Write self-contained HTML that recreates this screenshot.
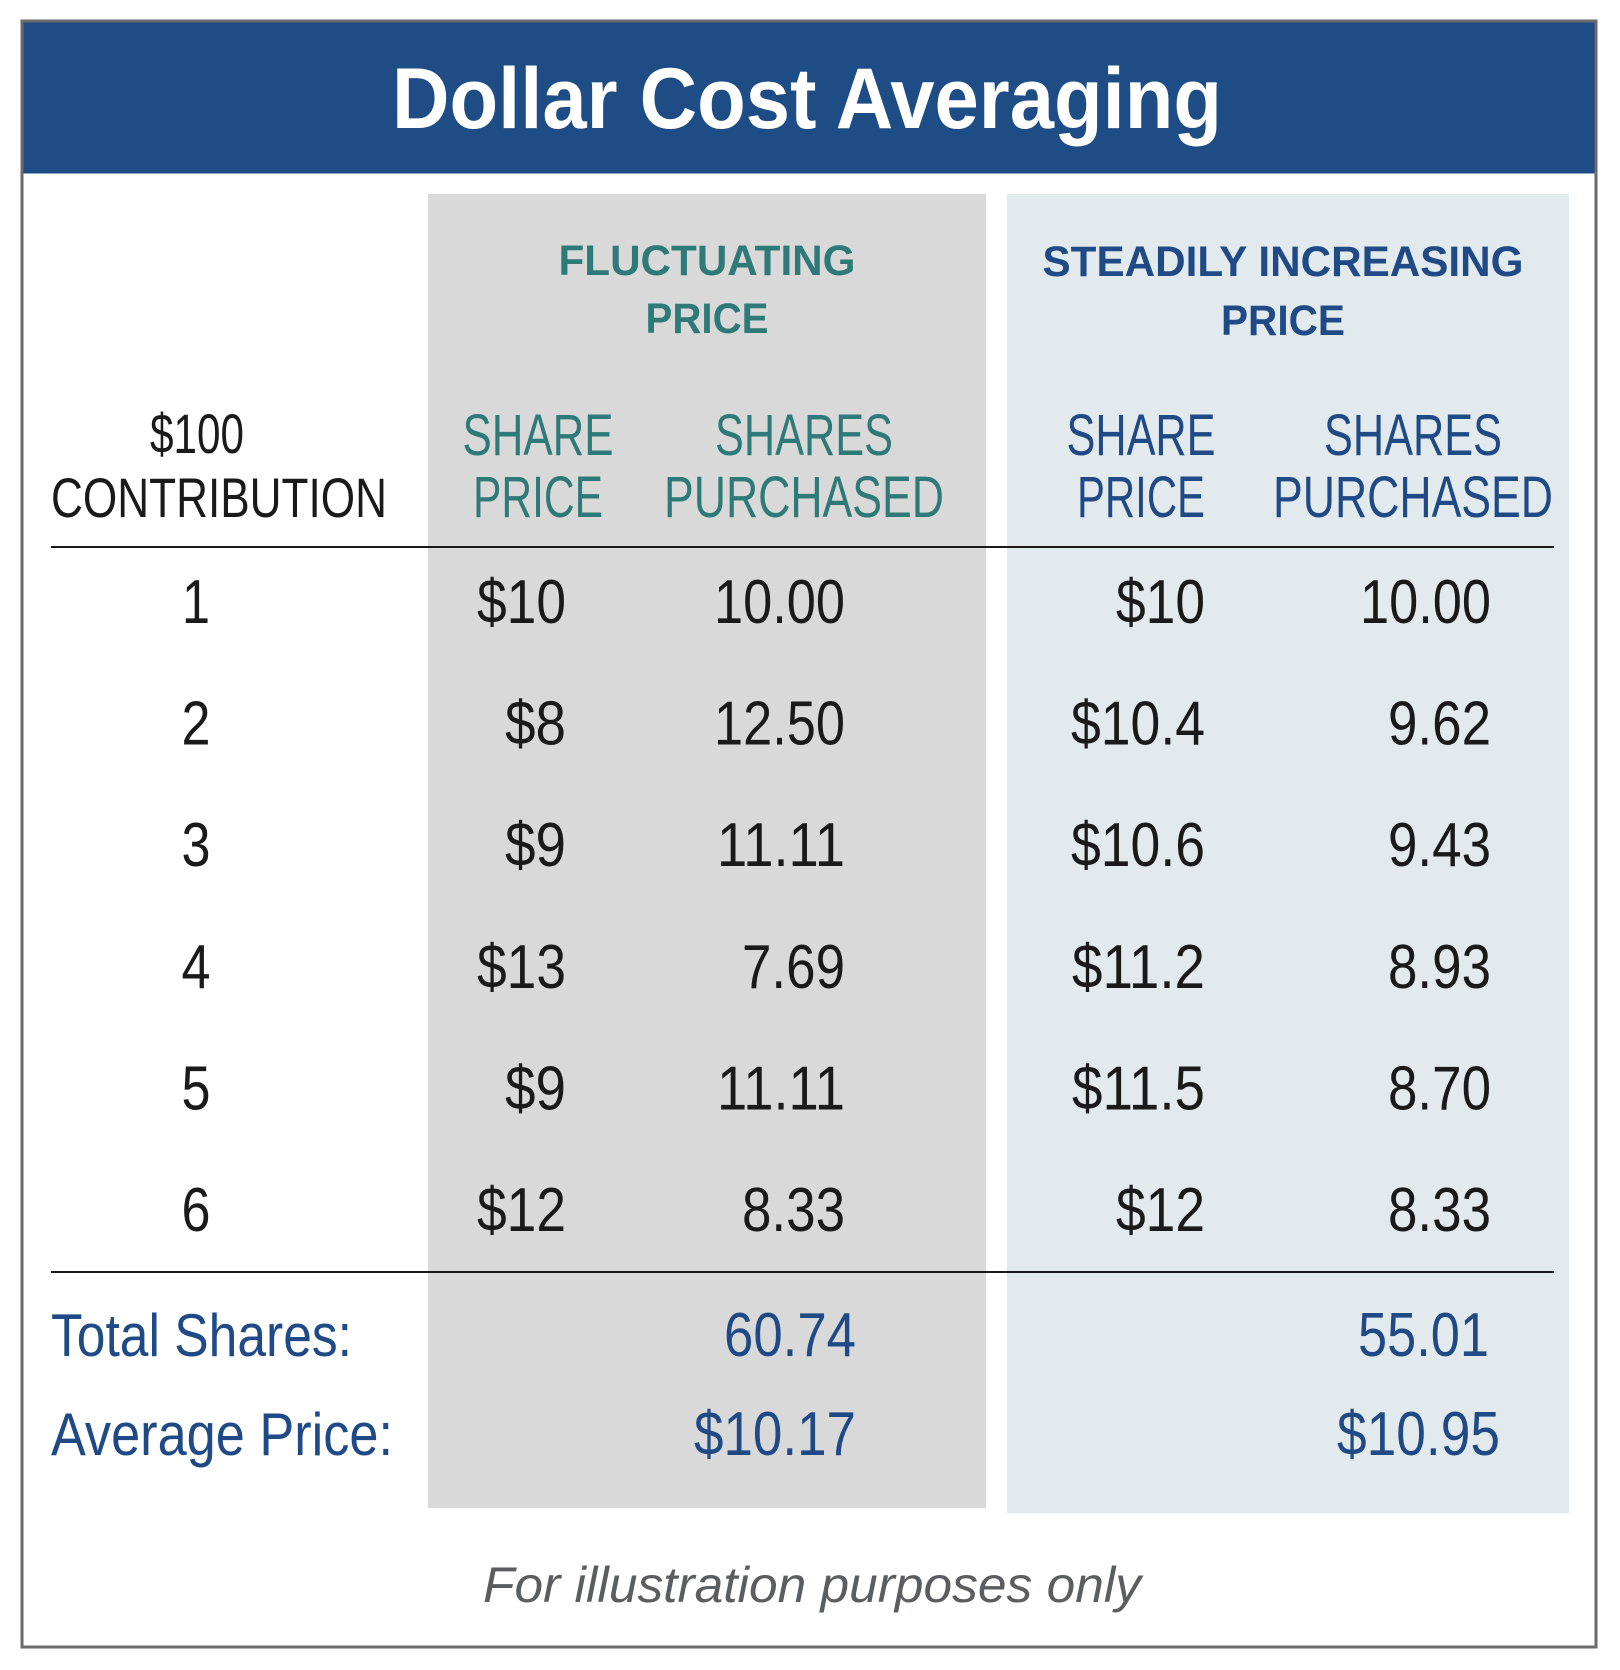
<!DOCTYPE html>
<html><head><meta charset="utf-8"><style>
html,body{margin:0;padding:0;background:#fff;}
svg{display:block;}
text{font-family:"Liberation Sans",sans-serif;}
</style></head><body>
<svg id="chart" width="1620" height="1670" viewBox="0 0 1620 1670" xmlns="http://www.w3.org/2000/svg">
<rect x="22" y="21" width="1574" height="1626" fill="#fff" stroke="#6b6b6b" stroke-width="3"/>
<rect x="23.5" y="22.5" width="1571" height="151" fill="#1e4c85"/>
<text x="807" y="128" text-anchor="middle" font-size="86" font-weight="bold" fill="#fff" textLength="830" lengthAdjust="spacingAndGlyphs">Dollar Cost Averaging</text>
<rect x="428" y="194" width="558" height="1314" fill="#d9d9d9"/>
<rect x="1007" y="194" width="562" height="1319" fill="#e2eaed"/>
<text text-anchor="middle" font-size="43" font-weight="bold" fill="#2e7a78"><tspan x="707" y="275" textLength="297" lengthAdjust="spacingAndGlyphs">FLUCTUATING</tspan><tspan x="707" y="333" textLength="123" lengthAdjust="spacingAndGlyphs">PRICE</tspan></text>
<text text-anchor="middle" font-size="43" font-weight="bold" fill="#1f4a86"><tspan x="1283" y="276" textLength="481" lengthAdjust="spacingAndGlyphs">STEADILY INCREASING</tspan><tspan x="1283" y="335" textLength="124" lengthAdjust="spacingAndGlyphs">PRICE</tspan></text>
<text font-size="56" fill="#1a1a1a"><tspan x="150" y="453" textLength="94" lengthAdjust="spacingAndGlyphs">$100</tspan><tspan x="51" y="517" textLength="336" lengthAdjust="spacingAndGlyphs">CONTRIBUTION</tspan></text>
<text text-anchor="middle" font-size="58" fill="#2e7a78"><tspan x="538" y="455" textLength="151" lengthAdjust="spacingAndGlyphs">SHARE</tspan><tspan x="538" y="517" textLength="130" lengthAdjust="spacingAndGlyphs">PRICE</tspan></text>
<text text-anchor="middle" font-size="58" fill="#2e7a78"><tspan x="804" y="455" textLength="178" lengthAdjust="spacingAndGlyphs">SHARES</tspan><tspan x="804" y="517" textLength="280" lengthAdjust="spacingAndGlyphs">PURCHASED</tspan></text>
<text text-anchor="middle" font-size="58" fill="#1f4a86"><tspan x="1141" y="455" textLength="149" lengthAdjust="spacingAndGlyphs">SHARE</tspan><tspan x="1141" y="517" textLength="128" lengthAdjust="spacingAndGlyphs">PRICE</tspan></text>
<text text-anchor="middle" font-size="58" fill="#1f4a86"><tspan x="1413" y="455" textLength="178" lengthAdjust="spacingAndGlyphs">SHARES</tspan><tspan x="1413" y="517" textLength="280" lengthAdjust="spacingAndGlyphs">PURCHASED</tspan></text>
<line x1="51" y1="547" x2="1554" y2="547" stroke="#1a1a1a" stroke-width="2"/>
<line x1="51" y1="1272" x2="1554" y2="1272" stroke="#1a1a1a" stroke-width="2"/>
<g id="rows"></g>
<text x="51" y="1356" font-size="60" fill="#1f4a86" textLength="301" lengthAdjust="spacingAndGlyphs">Total Shares:</text>
<text x="51" y="1455" font-size="60" fill="#1f4a86" textLength="342" lengthAdjust="spacingAndGlyphs">Average Price:</text>
<g id="totals"></g>
<text x="812" y="1602" text-anchor="middle" font-size="50" font-style="italic" fill="#5a5e60" textLength="658" lengthAdjust="spacingAndGlyphs">For illustration purposes only</text>
</svg>
<script>
const contributions = ["1","2","3","4","5","6"];
const fluctPrices = ["$10","$8","$9","$13","$9","$12"];
const fluctShares = ["10.00","12.50","11.11","7.69","11.11","8.33"];
const steadyPrices = ["$10","$10.4","$10.6","$11.2","$11.5","$12"];
const steadyShares = ["10.00","9.62","9.43","8.93","8.70","8.33"];
const totalShares = ["60.74","55.01"];
const averagePrices = ["$10.17","$10.95"];

const NS = "http://www.w3.org/2000/svg";
function w(s){let t=0;for(const c of s){t+= c==='.'?16:(c==='$'?32:(c==='1'?28:29));}return t;}
function rowY(i){return 623 + i*121.6;}
function mk(parent,str,x,y,anchor,fill){
  const t=document.createElementNS(NS,"text");
  t.setAttribute("x",x);t.setAttribute("y",y);
  t.setAttribute("text-anchor",anchor);
  t.setAttribute("font-size","62");
  t.setAttribute("fill",fill);
  t.setAttribute("textLength",w(str));
  t.setAttribute("lengthAdjust","spacingAndGlyphs");
  t.textContent=str;parent.appendChild(t);return t;
}
const rows=document.getElementById("rows");
contributions.forEach((c,i)=>{
  const y=rowY(i);
  let e;
  e=mk(rows,c,196,y,"middle","#1a1a1a");
  
  
  e=mk(rows,fluctPrices[i],566,y,"end","#1a1a1a");
  
  
  e=mk(rows,fluctShares[i],845,y,"end","#1a1a1a");
  
  
  e=mk(rows,steadyPrices[i],1205,y,"end","#1a1a1a");
  
  
  e=mk(rows,steadyShares[i],1491,y,"end","#1a1a1a");
  
  
});
const tot=document.getElementById("totals");
let e;
e=mk(tot,totalShares[0],856,1356,"end","#1f4a86");


e=mk(tot,totalShares[1],1489,1356,"end","#1f4a86");


e=mk(tot,averagePrices[0],856,1455,"end","#1f4a86");


e=mk(tot,averagePrices[1],1500,1455,"end","#1f4a86");


</script>
</body></html>
